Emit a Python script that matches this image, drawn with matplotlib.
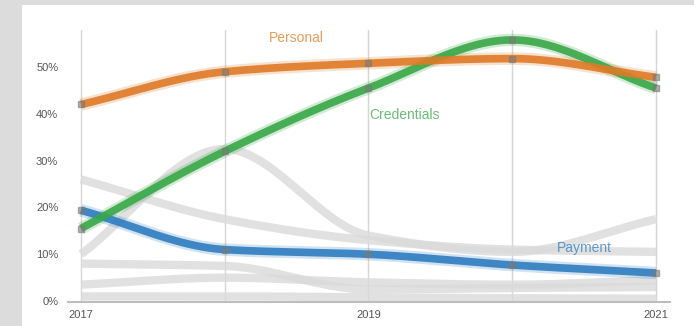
import numpy as np
import matplotlib
matplotlib.use("Agg")
import matplotlib.pyplot as plt
from matplotlib.patches import Rectangle

# Share of records by data type, per year
years = [2017, 2018, 2019, 2020, 2021]
personal = [42.0, 49.0, 50.8, 51.8, 47.8]
credentials = [15.5, 32.0, 45.5, 55.8, 45.5]
payment = [19.4, 11.0, 10.0, 7.7, 6.0]

# Other data types, drawn in the background
others = [
    [26.0, 17.5, 13.0, 11.0, 10.5],
    [10.0, 32.5, 14.0, 10.5, 17.5],
    [8.0, 7.5, 2.5, 2.8, 3.0],
    [3.5, 5.0, 4.0, 3.5, 4.5],
    [1.0, 1.0, 0.8, 0.6, 0.5],
]

y_ticks = [0, 10, 20, 30, 40, 50]
x_ticks = [2017, 2019, 2021]

ORANGE = "#df7a26"
GREEN = "#38a847"
BLUE = "#2e7cc0"

plt.rcParams["font.family"] = ["Liberation Sans", "DejaVu Sans"]


def pchip(x, y, n=200):
    # monotone cubic through the yearly points, so the lines read as smooth curves
    x = np.asarray(x, float)
    y = np.asarray(y, float)
    h = np.diff(x)
    d = np.diff(y) / h
    m = np.zeros_like(y)
    for i in range(1, len(y) - 1):
        if d[i - 1] * d[i] > 0:
            w1 = 2 * h[i] + h[i - 1]
            w2 = h[i] + 2 * h[i - 1]
            m[i] = (w1 + w2) / (w1 / d[i - 1] + w2 / d[i])
    m[0] = d[0]
    m[-1] = d[-1]
    xs = np.linspace(x[0], x[-1], n)
    idx = np.clip(np.searchsorted(x, xs) - 1, 0, len(h) - 1)
    t = (xs - x[idx]) / h[idx]
    h00 = 2 * t**3 - 3 * t**2 + 1
    h10 = t**3 - 2 * t**2 + t
    h01 = -2 * t**3 + 3 * t**2
    h11 = t**3 - t**2
    ys = h00 * y[idx] + h10 * h[idx] * m[idx] + h01 * y[idx + 1] + h11 * h[idx] * m[idx + 1]
    return xs, ys


fig = plt.figure(figsize=(6.94, 3.26), dpi=100, facecolor="#dcdcdc")
fig.patches.append(Rectangle((22 / 694, 0), 1, 321 / 326, transform=fig.transFigure,
                             facecolor="white", edgecolor="none", zorder=-10))

ax = fig.add_axes([68 / 694, 24 / 326, 602 / 694, 272.4 / 326])
ax.set_facecolor("none")

for yr in years:
    ax.axvline(yr, color="#d6d6d6", lw=1.0, zorder=1)

for series in others:
    xs, ys = pchip(years, series)
    ax.plot(xs, ys, color="#dadada", lw=6, alpha=0.8, solid_capstyle="butt", zorder=2)

for series, color in [(payment, BLUE), (credentials, GREEN), (personal, ORANGE)]:
    xs, ys = pchip(years, series)
    ax.plot(xs, ys, color=color, lw=9, alpha=0.22, solid_capstyle="butt", zorder=3)
    ax.plot(xs, ys, color=color, lw=5.5, alpha=0.9, solid_capstyle="butt", zorder=4)
    ax.plot(years, series, ls="none", marker="s", ms=4, color="#7a7a7a", alpha=0.6, zorder=5)

ax.text(2018.5, 56.2, "Personal", color=ORANGE, alpha=0.75, fontsize=10, ha="center", va="center")
ax.text(2019.25, 39.8, "Credentials", color=GREEN, alpha=0.75, fontsize=10, ha="center", va="center")
ax.text(2020.5, 11.3, "Payment", color=BLUE, alpha=0.75, fontsize=10, ha="center", va="center")

ax.set_xlim(2016.91, 2021.097)
ax.set_ylim(-0.2, 58)
ax.set_xticks(x_ticks)
ax.set_xticklabels([str(t) for t in x_ticks])
ax.set_yticks(y_ticks)
ax.set_yticklabels([f"{t}%" for t in y_ticks])
ax.tick_params(length=0, labelsize=8, colors="#555555")
ax.tick_params(axis="y", pad=7)
ax.tick_params(axis="x", pad=6)
for side in ["top", "right", "left"]:
    ax.spines[side].set_visible(False)
ax.spines["bottom"].set_color("#bdbdbd")
ax.spines["bottom"].set_linewidth(1.5)

fig.savefig("out.png", dpi=100, facecolor=fig.get_facecolor())
